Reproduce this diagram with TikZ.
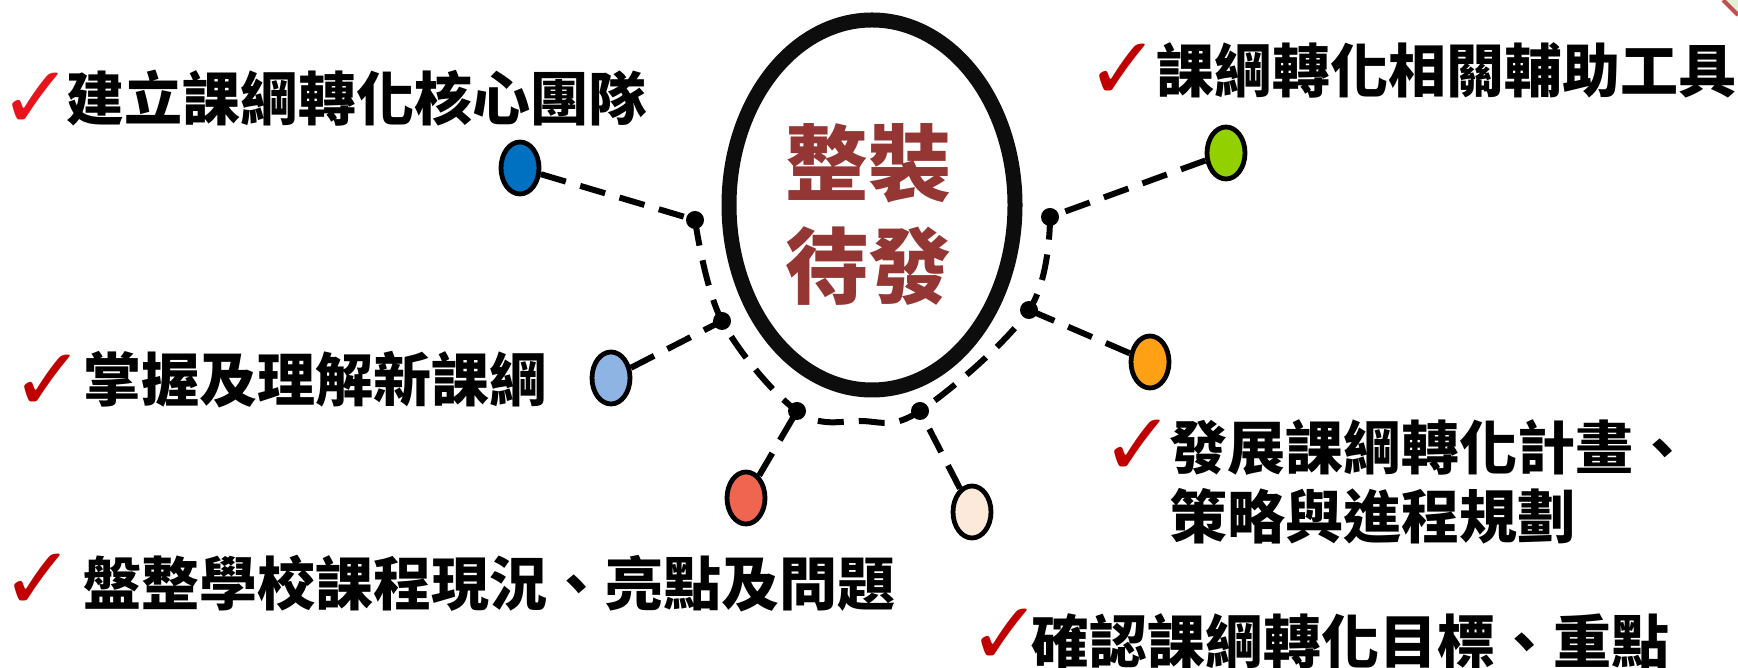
\documentclass[tikz,border=0pt]{standalone}
\usepackage{fontspec}
\usetikzlibrary{shapes.geometric}
\newfontfamily\cjk{Noto Sans CJK TC}
\newfontfamily\symf{DejaVu Sans}
\definecolor{tickred}{HTML}{C00000}
\definecolor{tickbright}{HTML}{E8141B}
\definecolor{coretext}{HTML}{943634}
\definecolor{cblue}{HTML}{0070C0}
\definecolor{clblue}{HTML}{8EB4E3}
\definecolor{cred}{HTML}{F0654F}
\definecolor{cbeige}{HTML}{FCE9D9}
\definecolor{corange}{HTML}{FFA015}
\definecolor{cgreen}{HTML}{92D000}
\definecolor{cornerfill}{HTML}{E2F0D9}
\definecolor{cornerline}{HTML}{C0504D}
\begin{document}
\begin{tikzpicture}[x=0.5pt,y=0.5pt,
  dot/.style={ellipse, draw=black, line width=2.4pt, minimum width=19pt, minimum height=26pt, inner sep=0pt},
  link/.style={line width=3pt, dash pattern=on 13pt off 7.5pt},
  joint/.style={circle, fill=black, minimum size=9pt, inner sep=0pt},
  lbl/.style={anchor=west, inner sep=0pt, font=\cjk\bfseries\fontsize{29pt}{34.5pt}\selectfont, align=left},
  tick/.style={inner sep=0pt, font=\symf\fontsize{44pt}{44pt}\selectfont, text=tickred}]
\useasboundingbox (0,0) rectangle (1738,668);
% corner fragment
\coordinate (k1) at (1723,668);
\coordinate (k2) at (1738,653);
\coordinate (k3) at (1738,668);
\fill[cornerfill] (k1) -- (k2) -- (k3) -- cycle;
\draw[cornerline, line width=2pt] (k1) -- (k2);
% junctions on arc
\coordinate (j1) at (695,448);
\coordinate (j2) at (722,347);
\coordinate (j3) at (797,257);
\coordinate (bt) at (860,247);
\coordinate (j4) at (920,257);
\coordinate (j5) at (1029,358);
\coordinate (j6) at (1050,451);
\draw[link] plot[smooth, tension=0.6] coordinates {(j1) (j2) (j3) (bt) (j4) (j5) (j6)};
% core
\node[ellipse, draw=black!95, line width=7.5pt, minimum width=143pt, minimum height=185pt, inner sep=0pt] (core) at (872,463) {};
\node[inner sep=0pt, align=center, text=coretext, font=\cjk\bfseries\fontsize{41.5pt}{51.5pt}\selectfont] (coretxt) at (868,454) {整裝\\待發};
% dots
\node[dot, fill=cblue] (d1) at (520,500) {};
\node[dot, fill=clblue] (d2) at (611,290) {};
\node[dot, fill=cred] (d3) at (746,170) {};
\node[dot, fill=cbeige] (d4) at (972,156) {};
\node[dot, fill=corange] (d5) at (1150,306) {};
\node[dot, fill=cgreen] (d6) at (1226,515) {};
\draw[link] (d1) -- (j1);
\draw[link] (d2) -- (j2);
\draw[link] (d3) -- (j3);
\draw[link] (d4) -- (j4);
\draw[link] (d5) -- (j5);
\draw[link] (d6) -- (j6);
\foreach \j in {j1,j2,j3,j4,j5,j6} \node[joint] (n\j) at (\j) {};
% labels
\node[tick, text=tickbright] (ck1) at (36,567) {✓};
\node[lbl] (t1) at (66,570) {建立課綱轉化核心團隊};
\node[tick] (ck2) at (1123,596) {✓};
\node[lbl] (t2) at (1156,598) {課綱轉化相關輔助工具};
\node[tick] (ck3) at (48,285) {✓};
\node[lbl] (t3) at (83,288) {掌握及理解新課綱};
\node[tick] (ck4) at (38,86) {✓};
\node[lbl] (t4) at (83,84) {盤整學校課程現況、亮點及問題};
\node[tick] (ck5) at (1138,220) {✓};
\node[lbl] (t5) at (1169,186) {發展課綱轉化計畫、\\策略與進程規劃};
\node[tick] (ck6) at (1005,31) {✓};
\node[lbl] (t6) at (1031,27) {確認課綱轉化目標、重點};
\end{tikzpicture}
\end{document}
